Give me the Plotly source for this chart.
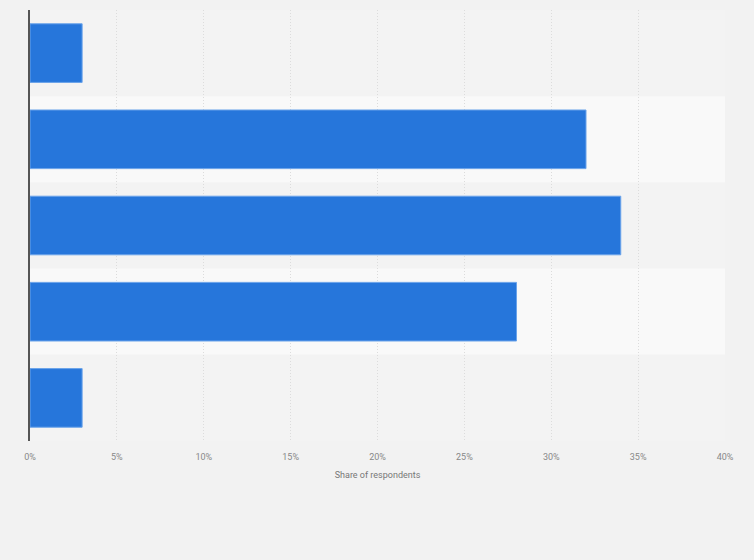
import plotly.graph_objects as go

categories = ["Category 1", "Category 2", "Category 3", "Category 4", "Category 5"]
values = [3, 32, 34, 28, 3]
tick_vals = [0, 5, 10, 15, 20, 25, 30, 35, 40]
tick_text = ["0%", "5%", "10%", "15%", "20%", "25%", "30%", "35%", "40%"]

band_colors = ["#f3f3f3", "#f9f9f9"]

fig = go.Figure()
fig.add_trace(go.Bar(
    x=values, y=categories, orientation="h",
    marker=dict(color="#2676db", line=dict(color="#6aa3ea", width=1)),
    width=0.68, hoverinfo="x+y",
))

shapes = []
for i, c in enumerate(categories):
    shapes.append(dict(type="rect", xref="paper", yref="y", x0=0, x1=1,
                       y0=i - 0.5, y1=i + 0.5, fillcolor=band_colors[i % 2],
                       line=dict(width=0), layer="below"))

fig.update_layout(
    width=754, height=560,
    margin=dict(l=22, r=37, t=2, b=127),
    paper_bgcolor="#f2f2f2", plot_bgcolor="#f3f3f3",
    shapes=shapes, showlegend=False,
    font=dict(family="Roboto, Arial, sans-serif", color="#888888", size=9),
    xaxis=dict(range=[0, 40], tickvals=tick_vals, ticktext=tick_text,
               showgrid=True, gridcolor="#dcdcdc", griddash="1px,2px", gridwidth=1,
               zeroline=False, ticks="", ticklen=0, ticklabelstandoff=9,
               title=dict(text="Share of respondents", font=dict(size=9, color="#777777"), standoff=10),
               tickfont=dict(size=9, color="#888888")),
    yaxis=dict(autorange="reversed", showticklabels=False, showgrid=False,
               showline=True, linecolor="#555555", linewidth=1.5, zeroline=False, ticks=""),
)
fig.write_html("out.html", post_script="document.body.style.background='#f2f2f2';")
